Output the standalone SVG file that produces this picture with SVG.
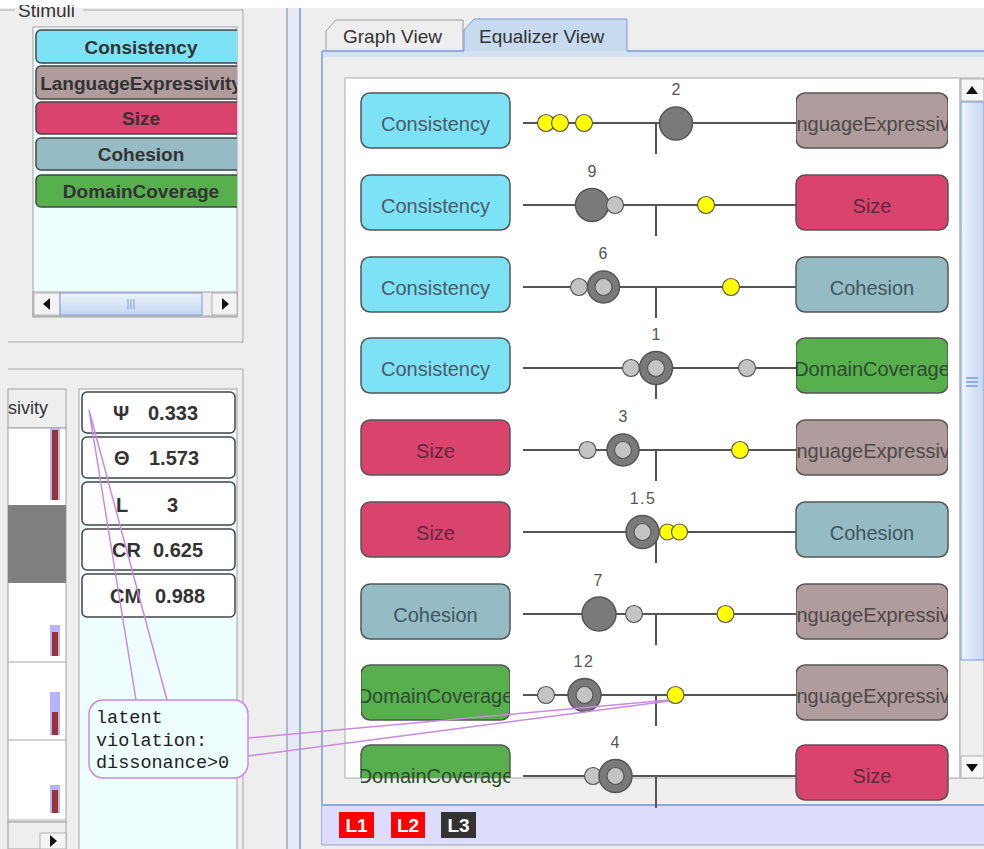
<svg xmlns="http://www.w3.org/2000/svg" width="984" height="849" viewBox="0 0 984 849">
<style>
text{font-family:"Liberation Sans",Arial,sans-serif}
text.mono{font-family:"Liberation Mono","Courier New",monospace;font-size:18.5px;fill:#222}
.lst{font-size:19px;font-weight:bold;fill:#333;text-anchor:middle}
.met{font-size:20px;font-weight:bold;fill:#333}
.nd{stroke:#555;stroke-width:1.5}
.nt{font-size:20px;text-anchor:middle}
.num{font-size:16px;fill:#555;text-anchor:middle}
.ax{stroke:#555;stroke-width:2;fill:none}
.big{fill:#7a7a7a;stroke:#555;stroke-width:1.5}
.lt{fill:#c4c4c4;stroke:#555;stroke-width:1.2}
.yl{fill:#ffff00;stroke:#555;stroke-width:1.2}
.cons{fill:#7de2f6}
.lang{fill:#b09c9c}
.size{fill:#da436d}
.coh{fill:#95bcc5}
.dom{fill:#57af4e}
.tc{fill:#4a5a68}
.tl{fill:#4e4848}
.ts{fill:#5e2a3c}
.th{fill:#3f5560}
.td{fill:#2f4a2f}
.vl{stroke:#c98ae0;stroke-width:1.5;fill:none}
.brd{fill:none;stroke:#a8a8a8;stroke-width:1}
.lvl{font-size:19px;font-weight:bold;fill:#fff;text-anchor:middle}
</style>
<defs>
<clipPath id="cl-list"><rect x="33" y="27" width="204" height="265"/></clipPath>
<clipPath id="cl-rbox"><rect x="796" y="0" width="152" height="849"/></clipPath>
<clipPath id="cl-lbox"><rect x="361" y="0" width="149" height="849"/></clipPath>
<clipPath id="cl-view"><rect x="345" y="78" width="615" height="700"/></clipPath>
<clipPath id="cl-title"><rect x="0" y="5" width="240" height="30"/></clipPath>
<linearGradient id="thumb" x1="0" y1="0" x2="1" y2="0"><stop offset="0" stop-color="#eef4fc"/><stop offset="1" stop-color="#c4d6f0"/></linearGradient>
<linearGradient id="hthumb" x1="0" y1="0" x2="0" y2="1"><stop offset="0" stop-color="#eef4fc"/><stop offset="1" stop-color="#c4d6f0"/></linearGradient>
</defs>

<!-- background -->
<rect x="0" y="0" width="984" height="849" fill="#eeeeee"/>
<rect x="0" y="0" width="984" height="8" fill="#ffffff"/>

<!-- left top panel: Stimuli -->
<g id="stimuli-panel">
<text x="18" y="17" font-size="19" fill="#333" clip-path="url(#cl-title)">Stimuli</text>
<path d="M0 10 H15 M83 10 H243 V342 H8" class="brd"/>
<rect x="33" y="27" width="204" height="290" fill="#eefeff" stroke="#a0a0a0"/>
<g clip-path="url(#cl-list)">
<g id="list-consistency"><rect class="cons" x="36" y="30" width="215" height="33" rx="5" stroke="#444" stroke-width="1.5"/><text class="lst" x="141" y="54">Consistency</text></g>
<g id="list-language"><rect class="lang" x="36" y="66" width="215" height="33" rx="5" stroke="#444" stroke-width="1.5"/><text class="lst" x="141" y="90">LanguageExpressivity</text></g>
<g id="list-size"><rect class="size" x="36" y="102" width="215" height="32" rx="5" stroke="#444" stroke-width="1.5"/><text class="lst" x="141" y="125">Size</text></g>
<g id="list-cohesion"><rect class="coh" x="36" y="138" width="215" height="32" rx="5" stroke="#444" stroke-width="1.5"/><text class="lst" x="141" y="161">Cohesion</text></g>
<g id="list-domain"><rect class="dom" x="36" y="175" width="215" height="32" rx="5" stroke="#444" stroke-width="1.5"/><text class="lst" x="141" y="198">DomainCoverage</text></g>
</g>
<g id="list-hscroll">
<rect x="33" y="292" width="204" height="24" fill="#eeeeee" stroke="#a0a0a0"/>
<rect x="34" y="293" width="26" height="22" fill="#f4f4f4" stroke="#b0b0b0"/>
<path d="M43 304 L50 298 V310 Z" fill="#111"/>
<rect x="60" y="293" width="142" height="22" fill="url(#hthumb)" stroke="#7a9ad8"/>
<path d="M128 299 V309 M131 299 V309 M134 299 V309" stroke="#7a9ad8" stroke-width="1"/>
<rect x="212" y="293" width="25" height="22" fill="#f4f4f4" stroke="#b0b0b0"/>
<path d="M229 304 L222 298 V310 Z" fill="#111"/>
</g>
</g>

<!-- left bottom panel -->
<g id="bottom-left-panel">
<path d="M8 369 H243 V849" class="brd"/>
<rect x="8" y="389" width="58" height="39" fill="#eeeeee" stroke="#a0a0a0"/>
<text x="8" y="414" font-size="18" fill="#333">sivity</text>
<rect x="8" y="428" width="58" height="394" fill="#ffffff" stroke="#a0a0a0"/>
<rect x="8" y="505" width="58" height="78" fill="#808080"/>
<path d="M8 662 H66 M8 740 H66 M8 820 H66" stroke="#a8a8a8"/>
<rect x="50" y="428" width="10" height="72" fill="#b4b4ff"/><rect x="52" y="430" width="6" height="70" fill="#9a3333"/>
<rect x="50" y="625" width="10" height="31" fill="#b4b4ff"/><rect x="52" y="632" width="6" height="24" fill="#9a3333"/>
<rect x="50" y="692" width="10" height="43" fill="#b4b4ff"/><rect x="52" y="712" width="6" height="23" fill="#9a3333"/>
<rect x="50" y="785" width="10" height="28" fill="#b4b4ff"/><rect x="52" y="790" width="6" height="23" fill="#9a3333"/>
<rect x="8" y="822" width="58" height="27" fill="#eeeeee" stroke="#a0a0a0"/>
<rect x="40" y="833" width="26" height="16" fill="#f4f4f4" stroke="#b0b0b0"/>
<path d="M57 841 L50 835 V847 Z" fill="#111"/>
</g>

<!-- metrics panel -->
<rect x="79" y="389" width="158" height="470" fill="#eefeff" stroke="#a0a0a0"/>
<g id="metric-psi"><rect x="82" y="392" width="153" height="41" rx="5" fill="#fff" stroke="#444" stroke-width="1.5"/><text class="met" x="113" y="420">Ψ</text><text class="met" x="148" y="420">0.333</text></g>
<g id="metric-theta"><rect x="82" y="437" width="153" height="41" rx="5" fill="#fff" stroke="#444" stroke-width="1.5"/><text class="met" x="114" y="465">Θ</text><text class="met" x="149" y="465">1.573</text></g>
<g id="metric-l"><rect x="82" y="482" width="153" height="43" rx="5" fill="#fff" stroke="#444" stroke-width="1.5"/><text class="met" x="116" y="512">L</text><text class="met" x="167" y="512">3</text></g>
<g id="metric-cr"><rect x="82" y="529" width="153" height="41" rx="5" fill="#fff" stroke="#444" stroke-width="1.5"/><text class="met" x="112" y="557">CR</text><text class="met" x="153" y="557">0.625</text></g>
<g id="metric-cm"><rect x="82" y="574" width="153" height="43" rx="5" fill="#fff" stroke="#444" stroke-width="1.5"/><text class="met" x="110" y="603">CM</text><text class="met" x="155" y="603">0.988</text></g>

<!-- divider -->
<rect x="287" y="8" width="13" height="841" fill="#e4ebf4"/>
<path d="M287 8 V849" stroke="#9aa8bc" stroke-width="1.5"/>
<path d="M300 8 V849" stroke="#7a9ad8" stroke-width="1.5"/>

<!-- tabs -->
<g id="tab-graph"><path d="M326 51 V31 L336 20 H463 V51" fill="#eeeeee" stroke="#999"/><text x="343" y="43" font-size="19" fill="#333">Graph View</text></g>
<g id="tab-equalizer"><path d="M464 52 V30 L474 19 H627 V52" fill="#c8daf0" stroke="#7a9ad8"/><text x="479" y="43" font-size="19" fill="#333">Equalizer View</text></g>
<rect x="322" y="51" width="662" height="6" fill="#d3e1f3" stroke="none"/>
<path d="M322 51 H464 M627 51 H984" stroke="#7a9ad8" stroke-width="1.5"/>
<path d="M322 51 V845" stroke="#7a9ad8" stroke-width="1.5"/>

<!-- equalizer viewport -->
<rect x="345" y="78" width="615" height="700" fill="#ffffff" stroke="#a8a8a8"/>

<!-- scrollbar -->
<g id="v-scroll">
<rect x="960" y="78" width="24" height="700" fill="#eeeeee" stroke="#b0b0b0"/>
<rect x="961" y="79" width="23" height="22" fill="#f6f6f6" stroke="#b0b0b0"/>
<path d="M972 86 L966 94 H978 Z" fill="#111"/>
<rect x="961" y="102" width="23" height="558" fill="url(#thumb)" stroke="#7a9ad8"/>
<path d="M966 378 H978 M966 382 H978 M966 386 H978" stroke="#7a9ad8" stroke-width="1.5"/>
<rect x="961" y="756" width="23" height="22" fill="#f6f6f6" stroke="#b0b0b0"/>
<path d="M966 764 H978 L972 772 Z" fill="#111"/>
</g>

<!-- status bar -->
<g id="status-bar">
<rect x="322" y="805" width="662" height="40" fill="#dcdcfc"/>
<path d="M322 805 H984" stroke="#8aa8d8" stroke-width="2"/>
<path d="M322 845 H984" stroke="#a0a0c0" stroke-width="1"/>
<g id="level-l1"><rect x="339" y="812" width="35" height="26" fill="#ff0000"/><text class="lvl" x="356.5" y="832">L1</text></g>
<g id="level-l2"><rect x="391" y="812" width="34" height="26" fill="#ff0000"/><text class="lvl" x="408" y="832">L2</text></g>
<g id="level-l3"><rect x="441" y="812" width="35" height="26" fill="#333333"/><text class="lvl" x="458.5" y="832" fill="#eef4ff">L3</text></g>
</g>

<!-- connectors (equalizer axes) -->
<g id="connectors">
<path class="ax" d="M523 123 H796 M656 123 V154"/>
<path class="ax" d="M523 205 H796 M656 205 V236"/>
<path class="ax" d="M523 287 H796 M656 287 V318"/>
<path class="ax" d="M523 368 H796 M656 368 V399"/>
<path class="ax" d="M523 450 H796 M656 450 V481"/>
<path class="ax" d="M523 532 H796 M656 532 V563"/>
<path class="ax" d="M523 614 H796 M656 614 V645"/>
<path class="ax" d="M523 695 H796 M656 695 V726"/>
<path class="ax" d="M523 776 H796 M656 776 V808"/>
</g>

<!-- row 1 -->
<g id="r1-left"><rect class="nd cons" x="361" y="93" width="149" height="55" rx="9"/><text class="nt tc" x="435.5" y="131">Consistency</text></g>
<g id="r1-right" clip-path="url(#cl-rbox)"><rect class="nd lang" x="796" y="93" width="152" height="55" rx="9"/><text class="nt tl" x="872" y="131">LanguageExpressivity</text></g>
<g id="r1-marks"><text class="num" x="676" y="95">2</text><circle class="yl" cx="546" cy="123" r="8.5"/><circle class="yl" cx="560" cy="123" r="8.5"/><circle class="yl" cx="584" cy="123" r="8.5"/><circle class="big" cx="676" cy="123.5" r="16.5"/></g>

<!-- row 2 -->
<g id="r2-left"><rect class="nd cons" x="361" y="175" width="149" height="55" rx="9"/><text class="nt tc" x="435.5" y="213">Consistency</text></g>
<g id="r2-right"><rect class="nd size" x="796" y="175" width="152" height="55" rx="9"/><text class="nt ts" x="872" y="213">Size</text></g>
<g id="r2-marks"><text class="num" x="592" y="177">9</text><circle class="big" cx="592" cy="205" r="16.5"/><circle class="lt" cx="615" cy="205" r="8.5"/><circle class="yl" cx="706" cy="205" r="8.5"/></g>

<!-- row 3 -->
<g id="r3-left"><rect class="nd cons" x="361" y="257" width="149" height="55" rx="9"/><text class="nt tc" x="435.5" y="295">Consistency</text></g>
<g id="r3-right"><rect class="nd coh" x="796" y="257" width="152" height="55" rx="9"/><text class="nt th" x="872" y="295">Cohesion</text></g>
<g id="r3-marks"><text class="num" x="603" y="259">6</text><circle class="lt" cx="579" cy="287" r="8.5"/><circle class="big" cx="603.5" cy="287" r="16"/><circle class="lt" cx="603.5" cy="287" r="8.5"/><circle class="yl" cx="731" cy="287" r="8.5"/></g>

<!-- row 4 -->
<g id="r4-left"><rect class="nd cons" x="361" y="338" width="149" height="55" rx="9"/><text class="nt tc" x="435.5" y="376">Consistency</text></g>
<g id="r4-right" clip-path="url(#cl-rbox)"><rect class="nd dom" x="796" y="338" width="152" height="55" rx="9"/><text class="nt td" x="872" y="376">DomainCoverage</text></g>
<g id="r4-marks"><text class="num" x="656" y="340">1</text><circle class="lt" cx="631" cy="368" r="8.5"/><circle class="big" cx="656" cy="368" r="16.5"/><circle class="lt" cx="656" cy="368" r="8.5"/><circle class="lt" cx="747" cy="368" r="8.5"/></g>

<!-- row 5 -->
<g id="r5-left"><rect class="nd size" x="361" y="420" width="149" height="55" rx="9"/><text class="nt ts" x="435.5" y="458">Size</text></g>
<g id="r5-right" clip-path="url(#cl-rbox)"><rect class="nd lang" x="796" y="420" width="152" height="55" rx="9"/><text class="nt tl" x="872" y="458">LanguageExpressivity</text></g>
<g id="r5-marks"><text class="num" x="623" y="422">3</text><circle class="lt" cx="587.5" cy="450" r="8.5"/><circle class="big" cx="623" cy="450" r="16"/><circle class="lt" cx="623" cy="450" r="8.5"/><circle class="yl" cx="740" cy="450" r="8.5"/></g>

<!-- row 6 -->
<g id="r6-left"><rect class="nd size" x="361" y="502" width="149" height="55" rx="9"/><text class="nt ts" x="435.5" y="540">Size</text></g>
<g id="r6-right"><rect class="nd coh" x="796" y="502" width="152" height="55" rx="9"/><text class="nt th" x="872" y="540">Cohesion</text></g>
<g id="r6-marks"><text class="num" x="643" y="504" letter-spacing="1.5">1.5</text><circle class="big" cx="642.5" cy="532" r="16.5"/><circle class="lt" cx="642.5" cy="532" r="8.5"/><circle class="yl" cx="667.5" cy="532" r="8"/><circle class="yl" cx="679.5" cy="532" r="8"/></g>

<!-- row 7 -->
<g id="r7-left"><rect class="nd coh" x="361" y="584" width="149" height="55" rx="9"/><text class="nt th" x="435.5" y="622">Cohesion</text></g>
<g id="r7-right" clip-path="url(#cl-rbox)"><rect class="nd lang" x="796" y="584" width="152" height="55" rx="9"/><text class="nt tl" x="872" y="622">LanguageExpressivity</text></g>
<g id="r7-marks"><text class="num" x="598" y="586">7</text><circle class="big" cx="599" cy="614" r="17"/><circle class="lt" cx="634" cy="614" r="8.5"/><circle class="yl" cx="725.5" cy="614" r="8.5"/></g>

<!-- row 8 -->
<g id="r8-left" clip-path="url(#cl-lbox)"><rect class="nd dom" x="361" y="665" width="149" height="55" rx="9"/><text class="nt td" x="435.5" y="703">DomainCoverage</text></g>
<g id="r8-right" clip-path="url(#cl-rbox)"><rect class="nd lang" x="796" y="665" width="152" height="55" rx="9"/><text class="nt tl" x="872" y="703">LanguageExpressivity</text></g>
<g id="r8-marks"><text class="num" x="584" y="667" letter-spacing="1.5">12</text><circle class="lt" cx="546" cy="695" r="8.5"/><circle class="big" cx="584.5" cy="695" r="16.5"/><circle class="lt" cx="584.5" cy="695" r="8.5"/><circle class="yl" cx="675.5" cy="695" r="8.5"/></g>

<!-- row 9 -->
<g id="r9-left"><g clip-path="url(#cl-view)"><rect class="nd dom" x="361" y="745" width="149" height="55" rx="9"/></g><text class="nt td" x="435.5" y="783" clip-path="url(#cl-lbox)">DomainCoverage</text></g>
<g id="r9-right"><rect class="nd size" x="796" y="745" width="152" height="55" rx="9"/><text class="nt ts" x="872" y="783">Size</text></g>
<g id="r9-marks"><text class="num" x="615" y="748">4</text><circle class="lt" cx="593" cy="776" r="8.5"/><circle class="big" cx="615.5" cy="776" r="16.5"/><circle class="lt" cx="615.5" cy="776" r="8.5"/></g>

<!-- callout -->
<g id="callout">
<rect x="89" y="700" width="159" height="78" rx="14" fill="#eefeff" stroke="#c98ae0" stroke-width="1.5"/>
<text class="mono" x="96" y="723">latent</text>
<text class="mono" x="96" y="746">violation:</text>
<text class="mono" x="96" y="768">dissonance&gt;0</text>
</g>
<g id="callout-connectors">
<path class="vl" d="M136 700 L89 410 L167 700"/>
<path class="vl" d="M248 738 L669 700 M248 756 L669 701"/>
</g>
</svg>
